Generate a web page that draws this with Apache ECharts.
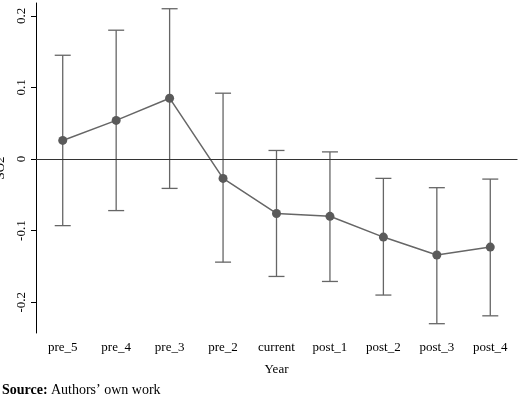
<!DOCTYPE html><html><head><meta charset="utf-8">
<script src="https://cdn.jsdelivr.net/npm/echarts@6/dist/echarts.min.js"></script>
<style>body{margin:0}#c{width:520px;height:400px}</style></head><body><div id="c"></div>
<script>
const categories=['pre_5','pre_4','pre_3','pre_2','current','post_1','post_2','post_3','post_4'];
const estimates=[0.026,0.054,0.085,-0.027,-0.076,-0.080,-0.109,-0.134,-0.123];
const upper=[0.145,0.180,0.210,0.092,0.012,0.010,-0.027,-0.040,-0.028];
const lower=[-0.093,-0.072,-0.041,-0.144,-0.164,-0.171,-0.190,-0.230,-0.219];
const yTicks=[-0.2,-0.1,0,0.1,0.2];
const font='Liberation Serif';
const chart=echarts.init(document.getElementById('c'));
chart.setOption({
animation:false,
textStyle:{fontFamily:font},
grid:{left:36,right:3,top:3,bottom:67,containLabel:false,outerBoundsMode:'none'},
xAxis:{type:'category',data:categories,name:'Year',nameLocation:'middle',nameGap:30,
 nameTextStyle:{fontFamily:font,fontSize:13,color:'#000'},
 axisLine:{lineStyle:{color:'#000'}},axisTick:{alignWithLabel:true,length:5,lineStyle:{color:'#000'}},
 axisLabel:{fontFamily:font,fontSize:13,color:'#000',margin:8}},
yAxis:{type:'value',min:-0.243,max:0.218,name:'SO2',nameLocation:'middle',nameGap:24,
 nameTextStyle:{fontFamily:font,fontSize:13,color:'#000'},
 splitLine:{show:false},axisLine:{show:true,lineStyle:{color:'#000'}},
 axisTick:{show:true,length:5,customValues:yTicks,lineStyle:{color:'#000'}},
 axisLabel:{customValues:yTicks,rotate:90,fontFamily:font,fontSize:13,color:'#000',margin:8,
  formatter:v=>(Math.abs(v)<1e-9?'0':(Math.round(v*10)/10).toFixed(1))}},
series:[
{type:'custom',renderItem:(p,api)=>{const x=api.coord([api.value(0),api.value(1)]);const y2=api.coord([api.value(0),api.value(2)]);const w=8;
 const s={stroke:'#666',lineWidth:1.3};
 return {type:'group',children:[
 {type:'line',shape:{x1:x[0],y1:x[1],x2:y2[0],y2:y2[1]},style:s},
 {type:'line',shape:{x1:x[0]-w,y1:x[1],x2:x[0]+w,y2:x[1]},style:s},
 {type:'line',shape:{x1:y2[0]-w,y1:y2[1],x2:y2[0]+w,y2:y2[1]},style:s}]};},
 data:categories.map((c,i)=>[i,upper[i],lower[i]]),z:2},
{type:'line',data:estimates,symbol:'circle',symbolSize:9,lineStyle:{color:'#666',width:1.5},
 itemStyle:{color:'#5a5a5a'},z:3,
 markLine:{silent:true,symbol:'none',label:{show:false},lineStyle:{color:'#333',type:'solid',width:1.2},data:[{yAxis:0}]}}
],
graphic:[{type:'text',left:2,top:383,style:{rich:{b:{fontWeight:'bold',fontFamily:font,fontSize:14},n:{fontFamily:font,fontSize:14}},text:'{b|Source:} {n|Authors’ own work}'}}]
});
</script></body></html>
